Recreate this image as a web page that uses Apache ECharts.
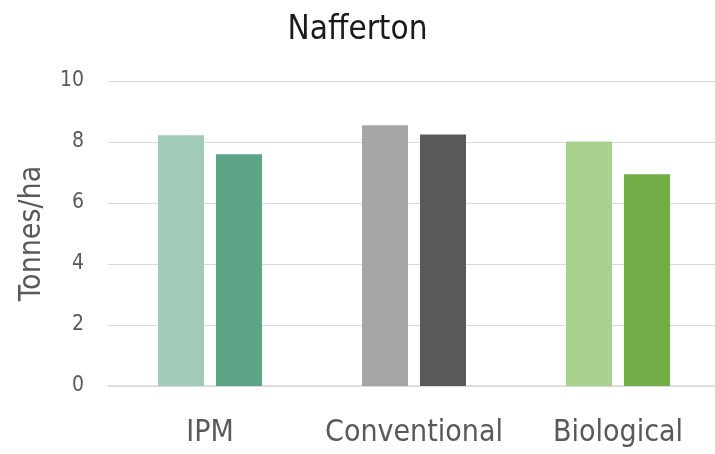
<!DOCTYPE html>
<html>
<head>
<meta charset="utf-8">
<script src="https://cdn.jsdelivr.net/npm/echarts@6/dist/echarts.min.js"></script>
<style>
  html, body { margin: 0; padding: 0; background: #ffffff; }
  #chart { width: 715px; height: 454px; }
</style>
</head>
<body>
<div id="chart"></div>
<script>
// Yield by management system, two bars per system
const categories = ['IPM', 'Conventional', 'Biological'];
const firstValues = [8.22, 8.55, 8.02];
const secondValues = [7.60, 8.25, 6.94];
const yTicks = [0, 2, 4, 6, 8, 10];

// Each system has its own pair of shades
const firstColors = ['#a1cbb9', '#a6a6a6', '#a9d18e'];
const secondColors = ['#5da386', '#595959', '#70ad47'];

const font = '"Liberation Sans Narrow", "DejaVu Sans Condensed", "Roboto Condensed", "Liberation Sans", Arial, sans-serif';

const chart = echarts.init(document.getElementById('chart'), null, { renderer: 'canvas' });

chart.setOption({
  animation: false,
  backgroundColor: '#ffffff',
  title: {
    text: 'Nafferton',
    left: 'center',
    top: 9,
    textStyle: { fontFamily: font, fontSize: 33, fontWeight: 'normal', color: '#1a1a1a' }
  },
  grid: { left: 108, top: 81, width: 612, bottom: 68, containLabel: false, outerBoundsMode: 'none' },
  xAxis: {
    type: 'category',
    data: categories,
    axisLine: { show: true, lineStyle: { color: '#d9d9d9', width: 1.5 } },
    axisTick: { show: false },
    axisLabel: { fontFamily: font, fontSize: 30, color: '#595959', margin: 32, interval: 0 }
  },
  yAxis: {
    type: 'value',
    min: yTicks[0],
    max: yTicks[yTicks.length - 1],
    interval: yTicks[1] - yTicks[0],
    name: 'Tonnes/ha',
    nameLocation: 'middle',
    nameRotate: 90,
    nameGap: 61,
    nameTextStyle: { fontFamily: font, fontSize: 30, color: '#595959' },
    axisLine: { show: false },
    axisTick: { show: false },
    splitLine: { lineStyle: { color: '#d9d9d9', width: 1.2 } },
    axisLabel: { fontFamily: font, fontSize: 21, color: '#595959', margin: 24 }
  },
  series: [
    {
      type: 'bar',
      barWidth: 46,
      barGap: '26%',
      data: firstValues.map((v, i) => ({ value: v, itemStyle: { color: firstColors[i] } }))
    },
    {
      type: 'bar',
      barWidth: 46,
      barGap: '26%',
      data: secondValues.map((v, i) => ({ value: v, itemStyle: { color: secondColors[i] } }))
    }
  ]
});
</script>
</body>
</html>
